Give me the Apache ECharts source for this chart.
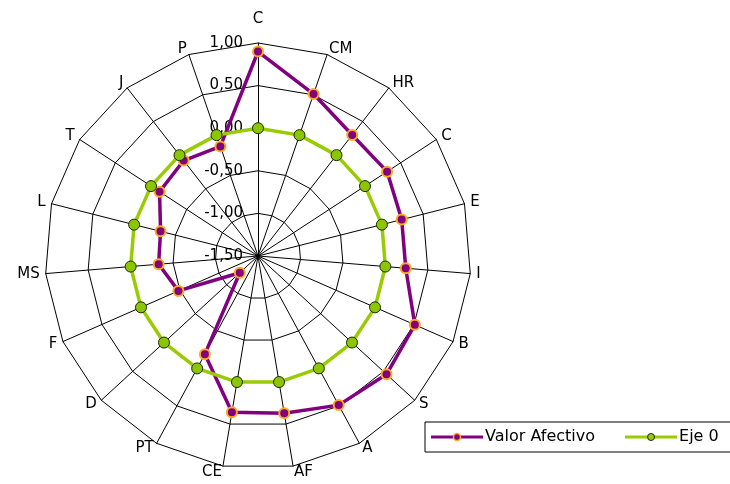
<!DOCTYPE html>
<html>
<head>
<meta charset="utf-8">
<script src="https://cdn.jsdelivr.net/npm/echarts@6/dist/echarts.min.js"></script>
<style>
html,body{margin:0;padding:0;background:#fff;}
#chart{width:730px;height:484px;}
</style>
</head>
<body>
<div id="chart"></div>
<script>
// Categories in clockwise order starting from the top
const categories = ['C','CM','HR','C','E','I','B','S','A','AF','CE','PT','D','F','MS','L','T','J','P'];
const valorAfectivo = [0.90,0.51,0.30,0.31,0.24,0.24,0.51,0.55,0.49,0.37,0.36,-0.19,-1.21,-0.48,-0.33,-0.32,-0.12,-0.08,-0.14];
const eje0 = [0,0,0,0,0,0,0,0,0,0,0,0,0,0,0,0,0,0,0];
const axisMin = -1.5, axisMax = 1.0;
const seriesNames = ['Valor Afectivo','Eje 0'];

// ECharts radar runs counter-clockwise: reorder (keep first at top)
const order = [0].concat(categories.map((_, i) => i).slice(1).reverse());
const reorder = arr => order.map(i => arr[i]);

const FONT = 'DejaVu Sans, Verdana, sans-serif';
const indicators = order.map((i, k) => {
  const ind = { name: categories[i], min: axisMin, max: axisMax, isTop: k === 0 };
  if (k !== 0) ind.axisLabel = { show: false };
  return ind;
});

function legendIcon(line, fill, stroke, sw, r) {
  const svg = '<svg xmlns="http://www.w3.org/2000/svg" width="52" height="12" viewBox="0 0 52 12">' +
    '<line x1="0" y1="6" x2="52" y2="6" stroke="' + line + '" stroke-width="3"/>' +
    '<circle cx="26" cy="6" r="' + r + '" fill="' + fill + '" stroke="' + stroke + '" stroke-width="' + sw + '"/></svg>';
  return 'image://data:image/svg+xml;charset=utf-8,' + encodeURIComponent(svg);
}

const chart = echarts.init(document.getElementById('chart'));
chart.setOption({
  animation: false,
  backgroundColor: '#fff',
  textStyle: { fontFamily: FONT },
  legend: {
    left: 425, top: 422,
    width: 420,
    orient: 'horizontal',
    data: [
      { name: seriesNames[0], icon: legendIcon('#800080', '#800080', '#FFA820', 1.5, 3.5) },
      { name: seriesNames[1], icon: legendIcon('#99CC00', '#99CC00', '#222', 1, 3.5) }
    ],
    borderColor: '#000', borderWidth: 1, borderRadius: 0,
    padding: [7, 20, 7, 6],
    itemWidth: 52, itemHeight: 12, itemGap: 30,
    textStyle: { color: '#000', fontSize: 16, fontFamily: FONT, padding: [0, 0, 0, -3] }
  },
  radar: {
    center: [258, 256],
    radius: 213,
    shape: 'polygon',
    startAngle: 90,
    splitNumber: 5,
    indicator: indicators,
    axisName: {
      color: '#000', fontSize: 15, fontFamily: FONT,
      formatter: (name, ind) => (ind && ind.isTop) ? '{top|' + name + '}' : name,
      rich: { top: { fontSize: 15, fontFamily: FONT, color: '#000', padding: [0, 0, 10, 0] } }
    },
    nameGap: 6,
    splitLine: { lineStyle: { color: '#000', width: 1 } },
    splitArea: { show: false },
    axisLine: { lineStyle: { color: '#000', width: 1 } },
    axisTick: { show: false },
    axisLabel: {
      show: true, color: '#000', fontSize: 15, fontFamily: FONT, margin: 15,
      formatter: v => (Math.round(v * 100) / 100).toFixed(2).replace('.', ',')
    }
  },
  series: [{
    type: 'radar',
    z: 2,
    data: [
      {
        name: seriesNames[0],
        value: reorder(valorAfectivo),
        symbol: 'circle', symbolSize: 10,
        lineStyle: { color: '#800080', width: 3.5 },
        itemStyle: { color: '#800080', borderColor: '#FFA820', borderWidth: 2 }
      },
      {
        name: seriesNames[1],
        value: reorder(eje0),
        symbol: 'circle', symbolSize: 11,
        lineStyle: { color: '#99CC00', width: 3.5 },
        itemStyle: { color: '#8CC600', borderColor: '#1a2a00', borderWidth: 1 }
      }
    ]
  }]
});
</script>
</body>
</html>
